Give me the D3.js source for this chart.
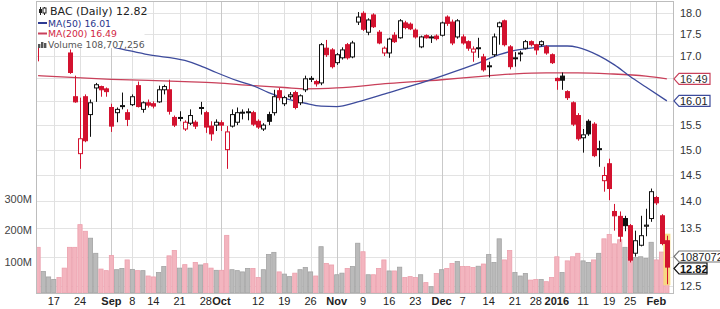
<!DOCTYPE html>
<html><head><meta charset="utf-8">
<script src="https://cdn.jsdelivr.net/npm/d3@7"></script>
<style>
body{margin:0;background:#fff;}
svg{display:block;}
</style></head>
<body><svg id="c" width="720" height="309"></svg>
<script>
const dates = [
"2015-08-12","2015-08-13","2015-08-14","2015-08-17","2015-08-18","2015-08-19","2015-08-20","2015-08-21","2015-08-24","2015-08-25","2015-08-26","2015-08-27","2015-08-28","2015-08-31",
"2015-09-01","2015-09-02","2015-09-03","2015-09-04","2015-09-08","2015-09-09","2015-09-10","2015-09-11","2015-09-14","2015-09-15","2015-09-16","2015-09-17","2015-09-18","2015-09-21","2015-09-22","2015-09-23","2015-09-24","2015-09-25","2015-09-28","2015-09-29","2015-09-30",
"2015-10-01","2015-10-02","2015-10-05","2015-10-06","2015-10-07","2015-10-08","2015-10-09","2015-10-12","2015-10-13","2015-10-14","2015-10-15","2015-10-16","2015-10-19","2015-10-20","2015-10-21","2015-10-22","2015-10-23","2015-10-26","2015-10-27","2015-10-28","2015-10-29","2015-10-30",
"2015-11-02","2015-11-03","2015-11-04","2015-11-05","2015-11-06","2015-11-09","2015-11-10","2015-11-11","2015-11-12","2015-11-13","2015-11-16","2015-11-17","2015-11-18","2015-11-19","2015-11-20","2015-11-23","2015-11-24","2015-11-25","2015-11-27","2015-11-30",
"2015-12-01","2015-12-02","2015-12-03","2015-12-04","2015-12-07","2015-12-08","2015-12-09","2015-12-10","2015-12-11","2015-12-14","2015-12-15","2015-12-16","2015-12-17","2015-12-18","2015-12-21","2015-12-22","2015-12-23","2015-12-24","2015-12-28","2015-12-29","2015-12-30","2015-12-31",
"2016-01-04","2016-01-05","2016-01-06","2016-01-07","2016-01-08","2016-01-11","2016-01-12","2016-01-13","2016-01-14","2016-01-15","2016-01-19","2016-01-20","2016-01-21","2016-01-22","2016-01-25","2016-01-26","2016-01-27","2016-01-28","2016-01-29",
"2016-02-01","2016-02-02","2016-02-03"];

const open = [17.55,17.55,17.62,17.70,17.80,17.68,17.07,16.10,14.92,16.10,15.72,16.29,16.32,16.27,
15.87,15.76,15.90,15.76,15.93,16.34,15.83,15.97,15.95,15.99,16.25,16.25,15.66,15.64,15.42,15.54,15.56,15.86,15.76,15.48,15.50,
15.55,15.00,15.48,15.56,15.76,15.76,15.76,15.58,15.42,15.72,15.76,16.23,15.95,16.10,16.19,15.97,16.25,16.48,16.43,16.40,17.18,17.14,
16.85,16.96,17.26,16.98,17.79,18.00,17.55,17.96,17.55,17.07,17.07,17.48,17.42,17.77,17.74,17.60,17.21,17.47,17.43,17.46,
17.48,17.91,17.79,17.44,17.44,17.33,17.09,17.18,16.98,16.76,17.03,17.68,17.82,17.21,16.94,17.05,17.18,17.33,17.26,17.26,17.21,17.03,
16.50,16.55,16.21,15.97,15.70,15.24,15.58,15.52,15.00,14.39,14.72,13.81,13.72,13.68,13.55,13.06,13.20,13.54,13.68,
14.07,13.73,13.28];
const high = [17.62,17.70,17.80,17.85,17.90,17.72,17.15,16.56,16.08,16.15,16.04,16.40,16.34,16.30,
15.95,15.87,16.19,15.83,16.15,16.43,16.00,16.04,16.00,16.34,16.36,16.47,15.70,15.79,15.60,15.83,15.60,15.99,15.80,15.58,15.62,
15.60,15.48,15.83,15.87,15.83,15.85,15.80,15.62,15.54,15.78,16.25,16.29,16.12,16.20,16.23,16.15,16.56,16.55,16.47,17.30,17.37,17.18,
17.07,17.20,17.30,17.35,18.03,18.05,17.88,18.00,17.60,17.22,17.42,17.55,17.86,17.82,17.78,17.64,17.47,17.50,17.48,17.50,
17.80,17.95,17.85,17.86,17.50,17.36,17.22,17.42,17.05,16.87,17.52,17.80,17.85,17.25,17.09,17.12,17.37,17.36,17.28,17.36,17.25,17.06,
16.52,16.63,16.24,16.00,15.75,15.42,15.62,15.56,15.18,14.66,14.82,13.95,13.81,13.73,13.58,13.46,13.73,13.86,14.24,
14.10,13.76,13.37];
const low = [16.88,17.45,17.55,17.58,17.68,17.30,16.60,15.97,14.62,15.15,15.26,15.99,16.10,16.10,
15.36,15.56,15.83,15.48,15.90,15.87,15.76,15.87,15.85,15.97,16.15,15.72,15.46,15.58,15.38,15.50,15.42,15.72,15.34,15.18,15.38,
15.38,14.62,15.45,15.50,15.62,15.60,15.48,15.42,15.38,15.50,15.70,16.02,15.90,16.05,15.83,15.92,16.20,16.42,16.32,16.35,16.98,16.72,
16.80,16.92,16.92,16.95,17.72,17.58,17.48,17.65,17.27,17.00,16.96,17.30,17.40,17.62,17.60,17.40,17.18,17.40,17.30,17.36,
17.45,17.70,17.25,17.40,17.26,17.12,16.87,16.96,16.65,16.52,16.98,17.26,17.22,16.70,16.76,16.88,17.15,17.22,17.03,17.22,17.03,16.82,
16.25,16.25,16.03,15.48,15.18,14.94,15.28,14.85,14.66,14.18,14.02,13.46,13.26,13.45,12.90,13.00,13.18,13.36,13.62,
13.93,13.20,12.53];
const close = [17.52,17.60,17.75,17.80,17.74,17.45,16.63,15.99,15.22,15.18,15.97,16.36,16.25,16.21,
15.48,15.83,15.91,15.62,16.10,15.89,15.97,15.92,15.90,16.25,16.32,15.79,15.50,15.66,15.56,15.70,15.48,15.87,15.46,15.32,15.56,
15.50,15.36,15.72,15.76,15.77,15.78,15.52,15.46,15.50,15.58,16.10,16.08,16.08,16.14,15.87,16.12,16.49,16.50,16.38,17.26,17.03,16.76,
17.03,17.14,16.96,17.30,17.91,17.62,17.84,17.68,17.30,17.18,17.39,17.33,17.82,17.66,17.63,17.44,17.44,17.42,17.44,17.40,
17.77,17.76,17.30,17.82,17.30,17.18,17.16,17.19,16.69,16.78,17.44,17.77,17.26,16.76,16.96,17.07,17.33,17.26,17.14,17.33,17.07,16.85,
16.45,16.46,16.08,15.52,15.22,15.30,15.32,14.88,15.02,14.49,14.24,13.73,13.36,13.55,12.94,13.28,13.37,13.56,14.18,
13.97,13.23,12.82];
// volume in millions of shares
const volume = [145,68,51,43,49,79,145,145,217,196,174,126,76,71,119,74,78,105,75,71,71,54,51,65,84,118,135,79,90,79,97,89,93,79,72,72,183,74,71,
67,78,78,49,74,122,129,67,60,52,63,74,81,67,54,147,94,89,58,63,78,84,158,131,58,58,78,105,70,70,82,49,52,49,58,33,20,62,74,78,94,100,84,84,81,
85,92,122,97,172,105,135,65,54,62,41,43,43,36,49,115,65,102,115,126,102,97,105,126,172,186,156,169,145,135,113,115,110,161,105,130,108.707256];

const ma50Dates = ["2015-08-12","2015-08-24","2015-09-03","2015-09-11","2015-09-22","2015-09-25","2015-09-30","2015-10-06","2015-10-09","2015-10-14","2015-10-19","2015-10-23","2015-10-28","2015-11-02","2015-11-06","2015-11-16","2015-11-23","2015-12-01","2015-12-04","2015-12-10","2015-12-16","2015-12-21","2015-12-24","2015-12-30","2016-01-06","2016-01-08","2016-01-14","2016-01-20","2016-01-25","2016-01-28","2016-02-03"];
const ma50 = [17.50,17.36,17.16,17.03,16.90,16.78,16.63,16.45,16.34,16.19,16.07,15.96,15.90,15.89,15.99,16.19,16.36,16.55,16.67,16.84,17.03,17.13,17.18,17.23,17.23,17.20,17.01,16.80,16.54,16.31,16.01];
const ma200Dates = ["2015-08-12","2015-09-01","2015-09-22","2015-09-30","2015-10-09","2015-10-19","2015-10-23","2015-11-02","2015-11-16","2015-12-01","2015-12-10","2015-12-21","2015-12-30","2016-01-08","2016-01-19","2016-01-28","2016-02-03"];
const ma200 = [16.56,16.48,16.43,16.40,16.34,16.30,16.27,16.29,16.39,16.47,16.54,16.60,16.62,16.62,16.60,16.55,16.49];

const priceTicks = [12.5,13.0,13.5,14.0,14.5,15.0,15.5,16.0,16.5,17.0,17.5,18.0];
const priceLabels = [12.5,13.5,14.0,14.5,15.0,15.5,17.0,17.5,18.0];
const volTicks = [100,200,300];
const tickDates = ["2015-08-17","2015-08-24","2015-09-01","2015-09-08","2015-09-14","2015-09-21","2015-09-28","2015-10-01","2015-10-12","2015-10-19","2015-10-26","2015-11-02","2015-11-09","2015-11-16","2015-11-23","2015-12-01","2015-12-07","2015-12-14","2015-12-21","2015-12-28","2016-01-04","2016-01-11","2016-01-19","2016-01-25","2016-02-01"];
const tickLabels = ["17","24","Sep","8","14","21","28","Oct","12","19","26","Nov","9","16","23","Dec","7","14","21","28","2016","11","19","25","Feb"];
const monthLabels = ["Sep","Oct","Nov","Dec","2016","Feb"];

const svg = d3.select("#c");
const L = 36, R = 674, T = 1, B = 294;
const step = 5.24;
const x = d3.scaleBand().domain(dates).range([35.46, 35.46 + step*dates.length]).padding(0);
const xc = d => x(d) + x.bandwidth()/2;
const y = d3.scaleLog().domain([12.5, 18]).range([286, 13.3]);
const vy = d3.scaleLinear().domain([0, 300]).range([293, 198.5]);

const RED = "#d3122f", BLK = "#111";

svg.append("rect").attr("width",720).attr("height",309).attr("fill","#fff");

svg.append("clipPath").attr("id","pc").append("rect")
  .attr("x",L).attr("y",T).attr("width",R-L).attr("height",B-T);
const plot = svg.append("g").attr("clip-path","url(#pc)");

// gridlines
plot.append("g").selectAll("line").data(priceTicks).join("line")
  .attr("x1",L).attr("x2",R).attr("y1",d=>Math.round(y(d))+0.5).attr("y2",d=>Math.round(y(d))+0.5)
  .attr("stroke","#e3e3e3").attr("stroke-width",1);
plot.append("g").selectAll("line").data(tickDates).join("line")
  .attr("x1",d=>Math.round(xc(d))+0.5).attr("x2",d=>Math.round(xc(d))+0.5).attr("y1",T).attr("y2",B)
  .attr("stroke",(d,i)=>monthLabels.includes(tickLabels[i])?"#c9c9c9":"#e0e0e0").attr("stroke-width",1);

// volume
const up = dates.map((d,i)=> i===0 ? false : close[i] >= close[i-1]);
plot.append("g").selectAll("rect").data(dates).join("rect")
  .attr("x",d=>x(d)+0.5).attr("width",x.bandwidth()-1)
  .attr("y",(d,i)=>vy(volume[i])).attr("height",(d,i)=>vy(0)-vy(volume[i]))
  .attr("fill",(d,i)=>up[i]?"#bababa":"#f3b5bf")
  .attr("stroke",(d,i)=>up[i]?"#a3a3a3":"#eca0ad").attr("stroke-width",0.8);

// moving averages
const lineGen = d3.line().x(d=>xc(d[0])).y(d=>y(d[1])).curve(d3.curveMonotoneX);
plot.append("path").attr("d",lineGen(ma200Dates.map((d,i)=>[d,ma200[i]])))
  .attr("fill","none").attr("stroke","#c9405a").attr("stroke-width",1.3);
plot.append("path").attr("d",lineGen(ma50Dates.map((d,i)=>[d,ma50[i]])))
  .attr("fill","none").attr("stroke","#3d4b9c").attr("stroke-width",1.3);

// highlight last candle
const last = dates.length-1;
plot.append("rect").attr("x",xc(dates[last])-3.5).attr("width",7)
  .attr("y",y(high[last])-2).attr("height",y(low[last])-y(high[last])+3)
  .attr("fill","#f7dc7a").attr("opacity",0.9);

// candles
const cg = plot.append("g");
dates.forEach((d,i)=>{
  const col = up[i] ? BLK : RED;
  const hollow = close[i] > open[i];
  const cx = Math.round(xc(d));
  cg.append("line").attr("x1",cx+0.5).attr("x2",cx+0.5)
    .attr("y1",y(high[i])).attr("y2",y(low[i])).attr("stroke",col).attr("stroke-width",1);
  const top = y(Math.max(open[i],close[i])), bot = y(Math.min(open[i],close[i]));
  const h = Math.max(1, bot-top);
  cg.append("rect").attr("x",cx-1.5).attr("width",4).attr("y",top).attr("height",h)
    .attr("fill",hollow?"#fff":col).attr("stroke",col).attr("stroke-width",1);
});

// legend
const lg = svg.append("g");
lg.append("rect").attr("x",L+0.5).attr("y",T+0.5).attr("width",108).attr("height",46.5).attr("fill","#fff");
const lf = "DejaVu Sans, Verdana, sans-serif";
lg.append("line").attr("x1",40.5).attr("x2",40.5).attr("y1",7).attr("y2",15).attr("stroke","#222");
lg.append("rect").attr("x",39).attr("y",9).attr("width",3).attr("height",4).attr("fill","#222");
lg.append("line").attr("x1",44.5).attr("x2",44.5).attr("y1",7).attr("y2",15).attr("stroke","#222");
lg.append("rect").attr("x",43).attr("y",8).attr("width",3).attr("height",5).attr("fill","#fff").attr("stroke","#222");
lg.append("text").attr("x",50).attr("y",15).attr("font-family",lf).attr("font-size","11px").attr("fill","#222").text("BAC (Daily) 12.82");
lg.append("line").attr("x1",38).attr("x2",47).attr("y1",23).attr("y2",23).attr("stroke","#2e3a92").attr("stroke-width",2);
lg.append("text").attr("x",48).attr("y",26.5).attr("font-family",lf).attr("font-size","9.3px").attr("fill","#27348b").text("MA(50) 16.01");
lg.append("line").attr("x1",38).attr("x2",47).attr("y1",33.5).attr("y2",33.5).attr("stroke","#c9405a").attr("stroke-width",2);
lg.append("text").attr("x",48).attr("y",37).attr("font-family",lf).attr("font-size","9.3px").attr("fill","#d11f43").text("MA(200) 16.49");
[[38,44,3],[41,42,5],[44,43,4]].forEach(b=>lg.append("rect").attr("x",b[0]).attr("y",b[1]).attr("width",2.4).attr("height",48-b[1]).attr("fill","#555"));
lg.append("text").attr("x",48).attr("y",47.5).attr("font-family",lf).attr("font-size","9.3px").attr("fill","#555").text("Volume 108,707,256");

// frame
svg.append("rect").attr("x",L+0.5).attr("y",T+0.5).attr("width",R-L-1).attr("height",B-T-1)
  .attr("fill","none").attr("stroke","#bdbdbd");

const af = "Liberation Sans, Arial, sans-serif";
// right price axis (labels hidden behind tags are not drawn)
const ra = svg.append("g").attr("transform",`translate(${R+4},0)`)
  .call(d3.axisRight(y).tickValues(priceLabels).tickFormat(d3.format(".1f")).tickSize(0).tickPadding(2));
ra.select(".domain").remove();
ra.selectAll("text").attr("font-family",af).attr("font-size","11px").attr("fill","#333");

// left volume axis
const la = svg.append("g").attr("transform",`translate(${L-2},0)`)
  .call(d3.axisLeft(vy).tickValues(volTicks).tickFormat(d=>d+"M").tickSize(0).tickPadding(2));
la.select(".domain").remove();
la.selectAll("text").attr("font-family",af).attr("font-size","11px").attr("fill","#444");

// bottom date axis
const ba = svg.append("g").attr("transform",`translate(0,${B})`)
  .call(d3.axisBottom(x).tickValues(tickDates).tickFormat((d,i)=>tickLabels[i]).tickSize(0).tickPadding(3));
ba.select(".domain").remove();
ba.selectAll("text").attr("font-family",af).attr("font-size","11px").attr("fill","#222")
  .attr("font-weight",(d,i)=>monthLabels.includes(tickLabels[i])?"bold":"normal");

// value tags on right
function tag(yc, txt, stroke, color, bold, w){
  const g = svg.append("g");
  const x0 = R, h = 5.5;
  g.append("path").attr("d",`M${x0},${yc} L${x0+5},${yc-h} L${x0+w},${yc-h} L${x0+w},${yc+h} L${x0+5},${yc+h} Z`)
    .attr("fill","#fff").attr("stroke",stroke).attr("stroke-width",1.2);
  g.append("text").attr("x",x0+6).attr("y",yc+4).attr("font-family",af).attr("font-size","11px")
    .attr("font-weight",bold?"bold":"normal").attr("fill",color).text(txt);
}
tag(y(ma200[ma200.length-1]), "16.49", "#c9405a", "#333", false, 36);
tag(y(ma50[ma50.length-1]), "16.01", "#3d4b9c", "#222", false, 36);
tag(256.5, "108707256", "#777", "#222", false, 60);
tag(268.5, "12.82", "#111", "#111", true, 33);
</script>
</body></html>
